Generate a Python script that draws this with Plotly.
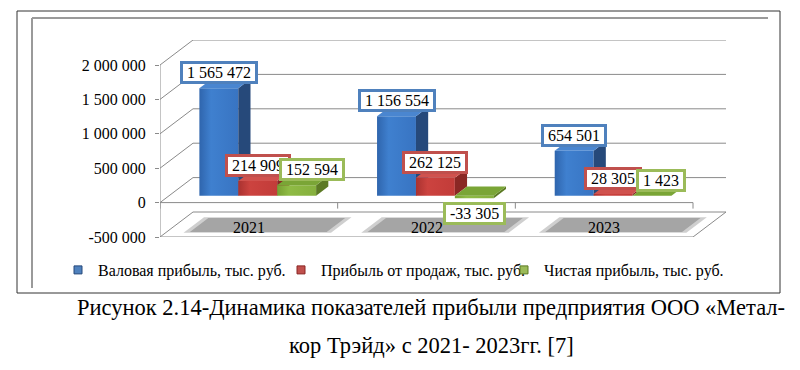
import plotly.graph_objects as go

# ---------------- data ----------------
categories = ["2021", "2022", "2023"]
series_names = ["Валовая прибыль, тыс. руб.",
                "Прибыль от продаж, тыс. руб.",
                "Чистая прибыль, тыс. руб."]
gross_profit = [1565472, 1156554, 654501]
sales_profit = [214909, 262125, 28305]
net_profit = [152594, -33305, 1423]
y_tick_values = [-500000, 0, 500000, 1000000, 1500000, 2000000]
y_tick_labels = ["-500 000", "0", "500 000", "1 000 000", "1 500 000", "2 000 000"]
caption_lines = ["Рисунок 2.14-Динамика показателей прибыли предприятия ООО «Метал-",
                 "кор Трэйд» с 2021- 2023гг. [7]"]

series_values = [gross_profit, sales_profit, net_profit]

# ---------------- geometry / style ----------------
W, H = 800, 370
PAGE_MARGIN = 8                   # default body margin of the html page
FW, FH = W - PAGE_MARGIN, H - PAGE_MARGIN
FONT = "Liberation Serif, Times New Roman, serif"
PL, PB = 160, 237                 # front-left / bottom of plotting area (page px)
CAT_PX = (693 - PL) / len(categories)
Y_MIN, Y_TOP = -500000, 2000000
PX_PER_VAL = (PB - 65) / (Y_TOP - Y_MIN)
DX = 33 / CAT_PX                  # oblique depth offset in x units
DY = 25 / PX_PER_VAL              # oblique depth offset in value units
X_MIN = -0.5
X_MAX = len(categories) - 0.5 + DX
Y_MAX = Y_TOP + DY
PR = PL + (X_MAX - X_MIN) * CAT_PX
PT = PB - (Y_MAX - Y_MIN) * PX_PER_VAL

BAR_W = 0.219
T_FRONT, T_BACK = 0.27, 0.64
GRID = "#8a8a8a"

styles = [
    dict(front=[[0, "#2f65ad"], [0.3, "#3f80cf"], [1, "#3874c2"]], side="#26497a", top="#4a86d0", border="#4f81bd"),
    dict(front=[[0, "#a93230"], [0.3, "#cc433f"], [1, "#c23c39"]], side="#8a2724", top="#d0524e", border="#c0504d"),
    dict(front=[[0, "#76a032"], [0.3, "#8fbb45"], [1, "#86b03e"]], side="#5c7a24", top="#7aa536", border="#9bbb59"),
]
label_xshift = [[0, 0, 15], [0, 0, 0], [0, 0, 9]]


def proj(x, v, t):
    return x + t * DX, v + t * DY


def poly(points):
    xs, ys = [], []
    for p in points:
        px, py = proj(*p)
        xs.append(px)
        ys.append(py)
    xs.append(xs[0])
    ys.append(ys[0])
    return xs, ys


def px_x(p):
    return (p - PL) / (PR - PL)


def px_y(p):
    return (PB - p) / (PB - PT)


fig = go.Figure()

# gridlines: left wall diagonal + back wall horizontal
gx, gy = [], []
for v in y_tick_values:
    for p in [(X_MIN, v, 0), (X_MIN, v, 1), (len(categories) - 0.5, v, 1)]:
        a, b = proj(*p)
        gx.append(a)
        gy.append(b)
    gx.append(None)
    gy.append(None)
# floor front and right edges
for p in [(X_MIN, Y_MIN, 0), (len(categories) - 0.5, Y_MIN, 0), (len(categories) - 0.5, Y_MIN, 1)]:
    a, b = proj(*p)
    gx.append(a)
    gy.append(b)
fig.add_trace(go.Scatter(x=gx, y=gy, mode="lines", line=dict(color=GRID, width=1),
                         hoverinfo="skip", showlegend=False))

# category label shadows on the floor (soft outer halo + core)
for grow, col in [(0.03, "rgba(175,175,175,0.6)"), (0.0, "rgba(160,160,160,0.9)")]:
    sx, sy = [], []
    for ci in range(len(categories)):
        xs, ys = poly([(ci - 0.369 - grow, Y_MIN, 0.2 - grow), (ci + 0.401 + grow, Y_MIN, 0.2 - grow),
                       (ci + 0.401 + grow, Y_MIN, 0.76 + grow), (ci - 0.369 - grow, Y_MIN, 0.76 + grow)])
        sx += xs + [None]
        sy += ys + [None]
    fig.add_trace(go.Scatter(x=sx, y=sy, mode="lines", fill="toself", fillcolor=col,
                             line=dict(width=0), hoverinfo="skip", showlegend=False))

# 3-D bars
n = len(series_values)
for ci in range(len(categories)):
    for si in range(n):
        v = series_values[si][ci]
        st = styles[si]
        xc = ci + (si - (n - 1) / 2) * BAR_W
        xl, xr = xc - BAR_W / 2, xc + BAR_W / 2
        vt, vb = max(v, 0), min(v, 0)
        xs, ys = poly([(xl, vb, T_FRONT), (xr, vb, T_FRONT), (xr, vt, T_FRONT), (xl, vt, T_FRONT)])
        fig.add_trace(go.Scatter(x=xs, y=ys, mode="lines", fill="toself",
                                 fillgradient=dict(type="horizontal", colorscale=st["front"]),
                                 line=dict(width=0), hoverinfo="skip", showlegend=False))
        xs, ys = poly([(xr, vb, T_FRONT), (xr, vb, T_BACK), (xr, vt, T_BACK), (xr, vt, T_FRONT)])
        fig.add_trace(go.Scatter(x=xs, y=ys, mode="lines", fill="toself", fillcolor=st["side"],
                                 line=dict(width=0), hoverinfo="skip", showlegend=False))
        xs, ys = poly([(xl, vt, T_FRONT), (xr, vt, T_FRONT), (xr, vt, T_BACK), (xl, vt, T_BACK)])
        fig.add_trace(go.Scatter(x=xs, y=ys, mode="lines", fill="toself", fillcolor=st["top"],
                                 line=dict(width=0), hoverinfo="skip", showlegend=False))
        # data label
        lx, ly = proj(xc, v, T_FRONT)
        fig.add_annotation(x=lx, y=ly, xref="x", yref="y",
                           text="&nbsp;" + f"{v:,}".replace(",", " ") + "&nbsp;",
                           showarrow=False, xanchor="center", yanchor="bottom" if v >= 0 else "top",
                           yshift=4 if v >= 0 else -4, xshift=label_xshift[ci][si],
                           font=dict(family=FONT, size=16, color="black"),
                           bgcolor="white", bordercolor=st["border"], borderwidth=3, borderpad=0)

# front axes: vertical value axis, category axis at zero with ticks
ax, ay = [], []
for seg in [[(X_MIN, Y_MIN, 0), (X_MIN, Y_TOP, 0)],
            [(X_MIN, 0, 0), (len(categories) - 0.5, 0, 0)]]:
    for p in seg:
        a, b = proj(*p)
        ax.append(a)
        ay.append(b)
    ax.append(None)
    ay.append(None)
tick_len_val = 6 / PX_PER_VAL
for k in range(len(categories) + 1):
    ax += [k - 0.5, k - 0.5, None]
    ay += [0, -tick_len_val, None]
fig.add_trace(go.Scatter(x=ax, y=ay, mode="lines", line=dict(color=GRID, width=1),
                         hoverinfo="skip", showlegend=False))

# category labels
for ci, c in enumerate(categories):
    fig.add_annotation(x=ci, y=Y_MIN, xref="x", yref="y", text=c, showarrow=False,
                       xanchor="center", yanchor="middle", yshift=10,
                       font=dict(family=FONT, size=16, color="black"))

# legend entries
for si, name in enumerate(series_names):
    fig.add_trace(go.Scatter(x=[None], y=[None], mode="markers", name=name,
                             marker=dict(symbol="square", size=8, color=styles[si]["border"],
                                         line=dict(color=styles[si]["side"], width=1))))

# caption
for line, yc in zip(caption_lines, [307, 345]):
    fig.add_annotation(x=px_x(431), y=px_y(yc), xref="paper", yref="paper", text=line,
                       showarrow=False, xanchor="center", yanchor="middle",
                       font=dict(family=FONT, size=22.5, color="black"))

# frame
shapes = [
    dict(type="rect", xref="paper", yref="paper", x0=px_x(17), x1=px_x(780), y0=px_y(293), y1=px_y(11),
         line=dict(color="#333333", width=1)),
    dict(type="line", xref="paper", yref="paper", x0=px_x(32), x1=px_x(32), y0=px_y(288), y1=px_y(18),
         line=dict(color="#9a9a9a", width=2)),
    dict(type="line", xref="paper", yref="paper", x0=px_x(32), x1=px_x(768), y0=px_y(18), y1=px_y(18),
         line=dict(color="#9a9a9a", width=2)),
]

fig.update_layout(
    width=FW, height=FH,
    margin=dict(l=PL - PAGE_MARGIN, r=W - PR, t=PT - PAGE_MARGIN, b=H - PB, pad=0, autoexpand=False),
    paper_bgcolor="white", plot_bgcolor="rgba(0,0,0,0)",
    shapes=shapes,
    showlegend=True,
    legend=dict(orientation="h", x=px_x(58), y=px_y(270), xanchor="left", yanchor="middle",
                font=dict(family=FONT, size=16, color="black"),
                entrywidth=178, entrywidthmode="pixels", bgcolor="rgba(0,0,0,0)"),
    xaxis=dict(range=[X_MIN, X_MAX], visible=False, fixedrange=True),
    yaxis=dict(range=[Y_MIN, Y_MAX], tickvals=y_tick_values, ticktext=y_tick_labels,
               showgrid=False, zeroline=False, showline=False,
               ticks="outside", ticklen=4, tickcolor=GRID, ticklabelstandoff=6,
               tickfont=dict(family=FONT, size=16, color="black"), fixedrange=True),
)

fig.write_html("out.html")
